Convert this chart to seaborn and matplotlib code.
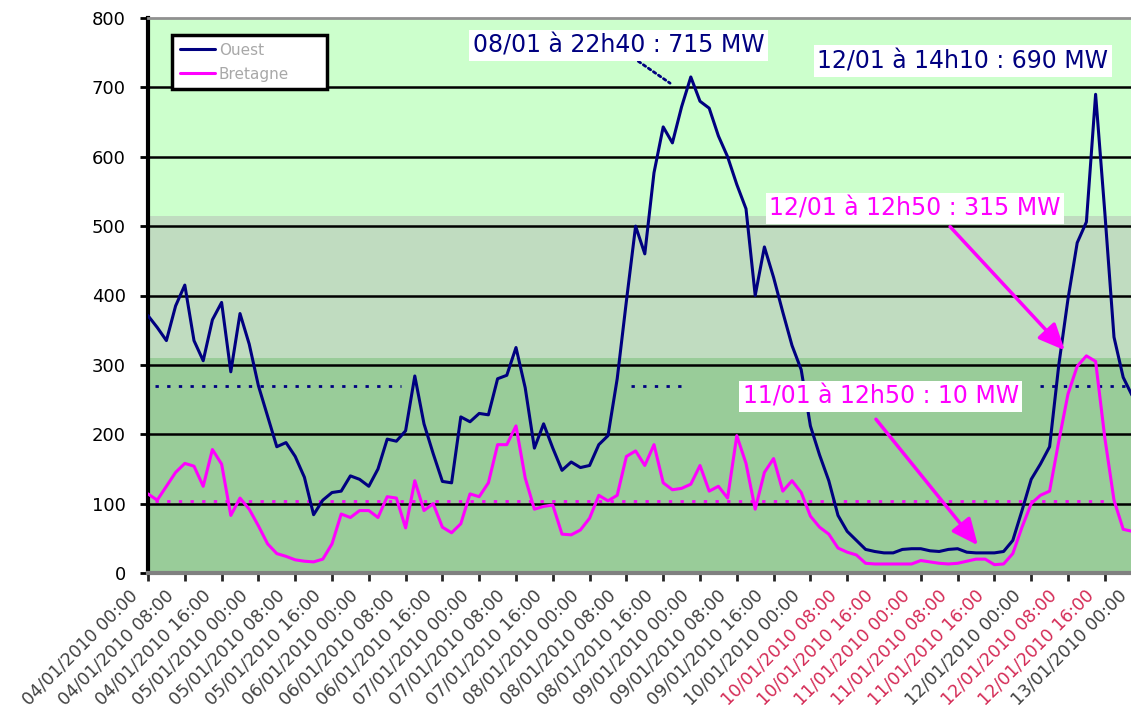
import matplotlib
matplotlib.use("Agg")
import matplotlib.pyplot as plt
import matplotlib.transforms as mtransforms
import numpy as np
import pandas as pd
import seaborn as sns

# Puissance éolienne (MW), pas de 2 heures à partir du 04/01/2010 00:00
ouest = [371, 354, 335, 385, 415, 335, 306, 365, 390, 290,
         374, 330, 270, 226, 182, 188, 168, 138, 84, 105,
         116, 118, 140, 135, 125, 150, 193, 190, 205, 284,
         215, 172, 132, 130, 225, 218, 230, 228, 280, 285,
         325, 267, 180, 215, 180, 148, 160, 152, 155, 185,
         198, 280, 392, 500, 460, 577, 643, 620, 672, 715,
         680, 670, 630, 600, 560, 525, 400, 470, 426, 376,
         328, 293, 212, 170, 133, 83, 60, 47, 34, 31,
         29, 29, 34, 35, 35, 32, 31, 34, 35, 30,
         29, 29, 29, 31, 47, 90, 135, 157, 182, 300,
         395, 476, 506, 690, 520, 340, 282, 255]
bretagne = [114, 105, 125, 145, 158, 154, 125, 178, 157, 83,
            108, 92, 68, 42, 28, 24, 19, 17, 16, 20,
            42, 85, 80, 90, 90, 80, 110, 108, 65, 133,
            90, 100, 66, 58, 71, 114, 110, 130, 185, 185,
            212, 137, 92, 96, 98, 56, 55, 62, 79, 112,
            104, 112, 168, 176, 155, 185, 130, 120, 122, 128,
            155, 118, 125, 108, 198, 158, 92, 145, 165, 118,
            133, 116, 82, 66, 56, 36, 30, 26, 14, 13,
            13, 13, 13, 13, 18, 16, 14, 13, 14, 17,
            20, 20, 12, 13, 28, 66, 100, 112, 118, 190,
            258, 298, 313, 305, 195, 105, 63, 60]
step_h = 2

# niveaux de référence (pointillés) et plages horaires où ils sont visibles
ouest_ref = 270
ouest_ref_spans = [(1.5, 55), (105, 116), (194, 214)]
bretagne_ref = 104
bretagne_ref_spans = [(1.5, 208)]

# bandes de fond
bands = [(0, 310, "#99CC99"), (310, 515, "#C0DCC0"), (515, 800, "#CCFFCC")]

tick_times = pd.date_range("2010-01-04 00:00", "2010-01-13 00:00", freq="8h")
tick_labels = tick_times.strftime("%d/%m/%Y %H:%M")
red_ticks = [19, 20, 21, 22, 23, 25, 26]

NAVY = "#000080"
MAGENTA = "#FF00FF"

hours = np.arange(len(ouest)) * step_h
df = pd.DataFrame({"heure": hours, "Ouest": ouest, "Bretagne": bretagne})

sns.set_style("white")
plt.rcParams["font.family"] = ["DejaVu Sans"]

fig = plt.figure(figsize=(11.31, 7.13), dpi=100)
ax = fig.add_axes([148 / 1131, 140 / 713, 993.6 / 1131, 555 / 713])

for lo, hi, c in bands:
    ax.axhspan(lo, hi, color=c, zorder=0, lw=0)
for v in range(100, 800, 100):
    ax.axhline(v, color="black", lw=1.8, zorder=1)

for a, b in ouest_ref_spans:
    ax.hlines(ouest_ref, a, b, color=NAVY, lw=2, linestyles=(0, (1.2, 3)), zorder=2)
for a, b in bretagne_ref_spans:
    ax.hlines(bretagne_ref, a, b, color=MAGENTA, lw=2, linestyles=(0, (1.2, 3)), zorder=2)

sns.lineplot(data=df, x="heure", y="Ouest", color=NAVY, lw=2.2, label="Ouest", ax=ax, zorder=3)
sns.lineplot(data=df, x="heure", y="Bretagne", color=MAGENTA, lw=2.2, label="Bretagne", ax=ax, zorder=4)

ax.set_xlim(0, 216)
ax.set_ylim(0, 800)
ax.set_xlabel("")
ax.set_ylabel("")

ax.set_yticks(range(0, 801, 100))
ax.tick_params(axis="y", labelsize=13, length=6, width=2, pad=10, left=True, colors="black")
ax.set_xticks(np.arange(0, 217, 8))
ax.set_xticklabels(tick_labels, rotation=45, ha="right", va="baseline",
                   rotation_mode="anchor", fontsize=12.5, color="#404040")
ax.tick_params(axis="x", length=6, width=2, pad=11, bottom=True)
xlabels = ax.get_xticklabels()
for i, lbl in enumerate(xlabels):
    dx = -14 if i == len(xlabels) - 1 else -10
    shift = mtransforms.ScaledTranslation(dx / 100, 0, fig.dpi_scale_trans)
    lbl.set_transform(lbl.get_transform() + shift)
    if i in red_ticks:
        lbl.set_color("#D42A55")

for side in ["left", "bottom", "top", "right"]:
    ax.spines[side].set_visible(True)
ax.spines["left"].set_color("black")
ax.spines["left"].set_linewidth(3)
ax.spines["bottom"].set_color("#808080")
ax.spines["bottom"].set_linewidth(3)
ax.spines["top"].set_color("#909090")
ax.spines["top"].set_linewidth(2)
ax.spines["right"].set_visible(False)

leg = ax.legend(loc="upper left", bbox_to_anchor=(0.0242, 0.8694, 0.156, 0.1),
                mode="expand", borderaxespad=0, fontsize=11, frameon=True,
                fancybox=False, framealpha=1, edgecolor="black",
                handlelength=2.3, handletextpad=0.25, labelspacing=0.6, borderpad=0.5)
leg.get_frame().set_linewidth(2.5)
for t in leg.get_texts():
    t.set_color("#A8A8A8")
leg.set_zorder(6)

box = dict(boxstyle="square,pad=0.15", fc="white", ec="none")
ax.annotate("08/01 à 22h40 : 715 MW", xy=(113.5, 706), xytext=(102.3, 760),
            textcoords="data", ha="center", va="center", fontsize=17, color=NAVY,
            bbox=box, zorder=7,
            arrowprops=dict(arrowstyle="-", color=NAVY, lw=2, linestyle=(0, (1, 1.2)),
                            relpos=(0.55, 0), shrinkA=0, shrinkB=0))
ax.text(177.1, 738, "12/01 à 14h10 : 690 MW", ha="center", va="center", fontsize=17,
        color=NAVY, bbox=box, zorder=7)
ax.annotate("12/01 à 12h50 : 315 MW", xy=(199.3, 321), xytext=(166.7, 526),
            textcoords="data", ha="center", va="center", fontsize=17, color=MAGENTA,
            bbox=box, zorder=7,
            arrowprops=dict(arrowstyle="-|>,head_length=1.0,head_width=0.45", color=MAGENTA,
                            lw=2.5, relpos=(0.6, 0), shrinkA=3, shrinkB=0, mutation_scale=16))
ax.annotate("11/01 à 12h50 : 10 MW", xy=(180.4, 40), xytext=(159.3, 255),
            textcoords="data", ha="center", va="center", fontsize=17, color=MAGENTA,
            bbox=box, zorder=7,
            arrowprops=dict(arrowstyle="-|>,head_length=1.0,head_width=0.45", color=MAGENTA,
                            lw=2.5, relpos=(0.45, 0), shrinkA=7, shrinkB=0, mutation_scale=16))

fig.savefig("out.png", dpi=100)
